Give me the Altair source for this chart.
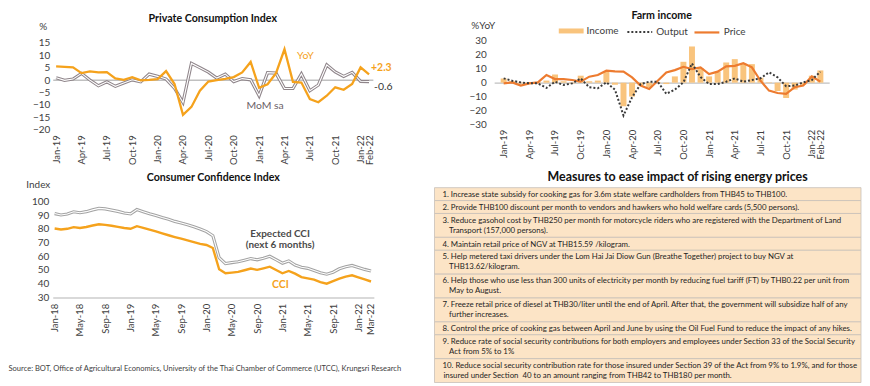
import altair as alt
import pandas as pd

FONT = "Lato"
TXT = "#404040"

# ---------------- data ----------------
months_19 = [d.strftime("%b-%y") for d in pd.date_range("2019-01-01", "2022-02-01", freq="MS")]
months_18 = [d.strftime("%b-%y") for d in pd.date_range("2018-01-01", "2022-03-01", freq="MS")]

pci_ticks = ["Jan-19", "Apr-19", "Jul-19", "Oct-19", "Jan-20", "Apr-20", "Jul-20", "Oct-20",
             "Jan-21", "Apr-21", "Jul-21", "Oct-21", "Jan-22", "Feb-22"]
cci_ticks = ["Jan-18", "May-18", "Sep-18", "Jan-19", "May-19", "Sep-19", "Jan-20", "May-20",
             "Sep-20", "Jan-21", "May-21", "Sep-21", "Jan-22", "Mar-22"]

pci_yoy = [5.5, 5.3, 5.1, 2.8, 3.5, 3.1, 3.2, 0.7, 0.1, 1.2,
           -0.1, 0.1, 0.4, 3.6, -1.6, -14.0, -10.8, -4.3, -0.6, 0.0,
           0.5, 1.2, 3.1, 7.3, -3.1, -1.7, 2.8, 12.4, -0.7, -1.0,
           -7.6, -8.9, -6.3, -2.9, -3.9, -1.6, 5.1, 2.3]
pci_mom = [0.9, -0.1, 0.4, 2.7, 0.0, -2.3, -0.7, -2.5, -1.2, 0.1,
           -0.7, 2.4, 1.5, 0.4, -3.3, -9.0, 6.7, 5.0, 3.2, 0.8,
           2.4, -0.6, 0.6, 0.1, -6.3, 3.0, 2.8, -3.4, -3.4, 2.5,
           -4.3, -2.0, 6.1, 3.3, 1.5, 3.1, -0.5, -0.6]

farm_income = [3.0, 1.0, -0.5, 0.5, 0.5, 1.5, 5.8, 1.0, -0.5, 5.0,
               1.0, 1.5, 8.0, -1.5, -17.0, -10.0, -2.0, -3.5, 0.5, -1.0,
               4.5, 15.0, 26.0, 10.5, 4.5, 7.9, 14.5, 16.9, 13.8, 13.3,
               3.5, 0.3, -6.0, -11.0, -5.0, -1.5, 5.0, 8.8]
farm_output = [3.1, 1.4, 0.2, -0.5, -0.5, -3.8, 0.7, -1.7, -0.5, 3.1,
               -3.3, -4.0, 0.2, -5.0, -23.6, -10.5, -1.0, 0.7, 0.7, -8.0,
               -5.0, 0.2, 13.8, 4.0, -1.0, -1.0, 0.7, 3.1, 0.7, 1.9,
               3.1, 7.4, 3.8, -2.6, -2.1, 0.2, 1.9, 7.9]
farm_price = [-0.5, 0.2, -2.1, -0.5, 0.2, 5.5, 2.6, 2.6, 1.9, 0.7,
              4.3, 5.5, 8.6, 8.1, 7.9, 3.8, -2.1, -4.5, 1.4, 7.4,
              9.0, 11.4, 9.8, 11.0, 6.2, 7.9, 11.7, 12.1, 14.0, 11.0,
              1.4, -5.7, -7.4, -8.1, -3.3, -2.1, 4.5, 0.7]

cci = [80.2, 79.5, 80.0, 81.2, 80.6, 81.3, 82.4, 83.3, 82.9, 82.2,
       81.4, 80.6, 80.0, 81.9, 80.7, 79.4, 78.2, 76.7, 75.3, 74.0,
       72.8, 71.6, 70.3, 69.0, 68.2, 66.0, 50.5, 47.6, 48.1, 48.6,
       49.8, 51.0, 50.1, 51.2, 52.4, 50.0, 47.6, 49.3, 47.3, 44.8,
       43.9, 42.9, 41.2, 40.0, 41.8, 43.7, 45.2, 46.1, 44.6, 43.1, 41.6]
cci_expected = [91.1, 90.1, 90.8, 92.4, 91.7, 92.5, 93.8, 94.9, 94.5, 93.6,
                92.7, 91.5, 90.9, 94.0, 92.5, 91.0, 89.7, 88.2, 86.9, 85.4,
                84.2, 82.9, 81.5, 79.9, 78.0, 75.0, 59.0, 54.6, 55.4, 56.0,
                57.1, 58.3, 57.4, 58.6, 60.0, 57.5, 54.9, 56.6, 53.6, 52.0,
                51.2, 49.6, 48.0, 46.9, 48.4, 50.9, 52.4, 53.3, 51.8, 50.4, 49.3]

measures = [
    ["1. Increase state subsidy for cooking gas for 3.6m state welfare cardholders from THB45 to THB100."],
    ["2. Provide THB100 discount per month to vendors and hawkers who hold welfare cards (5,500 persons)."],
    ["3. Reduce gasohol cost by THB250 per month for motorcycle riders who are registered with the Department of Land",
     "Transport (157,000 persons)."],
    ["4. Maintain retail price of NGV at THB15.59 /kilogram."],
    ["5. Help metered taxi drivers under the Lom Hai Jai Diow Gun (Breathe Together) project to buy NGV at",
     "THB13.62/kilogram."],
    ["6. Help those who use less than 300 units of electricity per month by reducing fuel tariff (FT) by THB0.22 per unit from",
     "May to August."],
    ["7. Freeze retail price of diesel at THB30/liter until the end of April. After that, the government will subsidize half of any",
     "further increases."],
    ["8. Control the price of cooking gas between April and June by using the Oil Fuel Fund to reduce the impact of any hikes."],
    ["9. Reduce rate of social security contributions for both employers and employees under Section 33 of the Social Security",
     "Act from 5% to 1%"],
    ["10. Reduce social security contribution rate for those insured under Section 39 of the Act from 9% to 1.9%, and for those",
     "insured under Section\u00a0 40 to an amount ranging from THB42 to THB180 per month."],
]
source_text = ("Source: BOT, Office of Agricultural Economics, University of the Thai Chamber of Commerce (UTCC), "
               "Krungsri Research")

# ---------------- helpers ----------------
def month_expr(months):
    return "[" + ",".join("'" + m + "'" for m in months) + "][datum.value]"


def x_axis(ticks, months, pad, **kw):
    return alt.Axis(values=[months.index(t) for t in ticks], labelExpr=month_expr(months),
                    labelAngle=270, labelPadding=pad, labelFontSize=9.5, labelFont=FONT,
                    labelColor=TXT, labelOverlap=False, labelFlush=False,
                    ticks=False, grid=False, **kw)


def y_axis(values, title, tx, ty, pad, zero_line=None):
    if zero_line:
        extra = dict(grid=True,
                     gridColor=alt.condition("datum.value == 0", alt.value(zero_line[0]),
                                             alt.value("transparent")),
                     gridWidth=zero_line[1])
    else:
        extra = dict(grid=False)
    return alt.Axis(values=values, title=title, titleAngle=0, titleAlign="center",
                    titleBaseline="middle", titleX=tx, titleY=ty, titleFont=FONT,
                    titleFontSize=10, titleFontWeight="normal", titleColor=TXT,
                    labelFont=FONT, labelFontSize=10, labelColor=TXT, labelPadding=pad,
                    labelOverlap=False, domain=False, ticks=False, **extra)


def ttl(text, size=10.7, offset=0):
    return alt.Title(text, font=FONT, fontSize=size, fontWeight="bold", color="#111111",
                     anchor="middle", offset=offset)


ORANGE = "#F5A21C"
MOM_GREY = "#8F858A"
EXP_GREY = "#A3A3A3"
INC = "#F9C47D"
PRICE = "#ED7B2F"
OUT = "#3A3A3A"

# ---------------- Private Consumption Index ----------------
n19 = len(months_19)
pci_df = pd.DataFrame({"m": list(range(n19)) * 2,
                       "series": ["YoY"] * n19 + ["MoM sa"] * n19,
                       "value": pci_yoy + pci_mom})
pci_base = alt.Chart(pci_df).encode(
    x=alt.X("m:Q", scale=alt.Scale(domain=[-0.4, 37.45], nice=False, zero=False),
            axis=x_axis(pci_ticks, months_19, 5, domain=False, title=None)),
    y=alt.Y("value:Q", scale=alt.Scale(domain=[-20, 21.36], nice=False, zero=False),
            axis=y_axis(list(range(-20, 20, 5)), "%", -10, -0.6, 3, ("#C0C0C0", 1.5))),
)
is_yoy = "datum.series == 'YoY'"
is_mom = "datum.series == 'MoM sa'"
pci_chart = alt.layer(
    pci_base.transform_filter(is_mom).mark_line(color=MOM_GREY, strokeWidth=3.2),
    pci_base.transform_filter(is_mom).mark_line(color="white", strokeWidth=1.1),
    pci_base.transform_filter(is_yoy).mark_line(color=ORANGE, strokeWidth=2.3),
    pci_base.transform_filter(is_yoy + " && datum.m == 27").mark_text(
        text="YoY", dx=21, dy=7, font=FONT, fontSize=10.5, color=ORANGE),
    pci_base.transform_filter(is_mom + " && datum.m == 24").mark_text(
        text="MoM sa", dx=6, dy=10, font=FONT, fontSize=10.5, color="#6B6267"),
    pci_base.transform_filter(is_yoy + " && datum.m == 37")
    .transform_calculate(lbl="replace(format(datum.value, '+.1f'), '\u2212', '-')")
    .mark_text(align="left", dx=2, dy=-6, font=FONT, fontSize=10.5, fontWeight="bold", color=ORANGE)
    .encode(text="lbl:N"),
    pci_base.transform_filter(is_mom + " && datum.m == 37")
    .transform_calculate(lbl="replace(format(datum.value, '.1f'), '\u2212', '-')")
    .mark_text(align="left", dx=5, dy=5, font=FONT, fontSize=10.5, color="#333333")
    .encode(text="lbl:N"),
).properties(width=322, height=103.4, title=ttl("Private Consumption Index", offset=-3))

# ---------------- Farm income ----------------
farm_df = pd.DataFrame({"m": list(range(n19)) * 3,
                        "series": ["Income"] * n19 + ["Output"] * n19 + ["Price"] * n19,
                        "value": farm_income + farm_output + farm_price})
farm_base = alt.Chart(farm_df).encode(
    x=alt.X("m:Q", scale=alt.Scale(domain=[-0.53, 37.45], nice=False, zero=False),
            axis=x_axis(pci_ticks, months_19, 5, domain=False, title=None)),
    y=alt.Y("value:Q", scale=alt.Scale(domain=[-30, 40], nice=False, zero=False),
            axis=y_axis(list(range(-30, 40, 10)), "%YoY", -11.5, -1.6, 8, ("#C0C0C0", 1.2))),
)
leg = dict(orient="none", title=None, labelFont=FONT, labelFontSize=10, labelColor=TXT,
           labelOffset=3, direction="horizontal")
LEG_Y = -8.5
farm_chart = alt.layer(
    farm_base.transform_filter("datum.series == 'Income'").mark_bar(size=6).encode(
        fill=alt.Fill("series:N", scale=alt.Scale(domain=["Income"], range=[INC]),
                      legend=alt.Legend(legendX=65, legendY=LEG_Y, symbolType="M-1,-0.2H1V0.2H-1Z",
                                        symbolSize=625, symbolStrokeWidth=0, **leg))),
    farm_base.transform_filter("datum.series == 'Price'").mark_line(strokeWidth=2.2).encode(
        stroke=alt.Stroke("series:N", scale=alt.Scale(domain=["Price"], range=[PRICE]),
                          legend=alt.Legend(legendX=200, legendY=LEG_Y, symbolType="stroke",
                                            symbolSize=625, symbolStrokeWidth=2.2, **leg))),
    farm_base.transform_filter("datum.series == 'Output'").mark_line(color=OUT, strokeWidth=2).encode(
        strokeDash=alt.StrokeDash("series:N", scale=alt.Scale(domain=["Output"], range=[[2, 2]]),
                                  legend=alt.Legend(legendX=133, legendY=LEG_Y, symbolType="stroke",
                                                    symbolSize=625, symbolStrokeWidth=2,
                                                    symbolStrokeColor=OUT, symbolDash=[2, 2], **leg))),
).properties(width=337, height=98, title=ttl("Farm income", offset=-3))

# ---------------- Consumer Confidence Index ----------------
n18 = len(months_18)
cci_df = pd.DataFrame({"m": list(range(n18)) * 2,
                       "series": ["CCI"] * n18 + ["Expected"] * n18,
                       "value": cci + cci_expected})
cci_base = alt.Chart(cci_df).encode(
    x=alt.X("m:Q", scale=alt.Scale(domain=[-0.3, 50.45], nice=False, zero=False),
            axis=x_axis(cci_ticks, months_18, 6, domain=True, domainColor="#D9D9D9", domainWidth=2,
                        title=source_text, titleX=-45, titleY=71.3, titleAlign="left",
                        titleBaseline="middle", titleAngle=0, titleFont=FONT, titleFontSize=7.6,
                        titleFontWeight="normal", titleColor=TXT)),
    y=alt.Y("value:Q", scale=alt.Scale(domain=[30, 110], nice=False, zero=False),
            axis=y_axis(list(range(30, 110, 10)), "Index", -15, -3.3, 4)),
)
is_cci = "datum.series == 'CCI'"
is_exp = "datum.series == 'Expected'"
cci_chart = alt.layer(
    cci_base.transform_filter(is_exp).mark_line(color=EXP_GREY, strokeWidth=3.2),
    cci_base.transform_filter(is_exp).mark_line(color="white", strokeWidth=1.1),
    cci_base.transform_filter(is_cci).mark_line(color=ORANGE, strokeWidth=2.4),
    cci_base.transform_filter(is_exp + " && datum.m == 35").mark_text(
        text=["Expected CCI", "(next 6 months)"], dx=4, dy=-26, lineHeight=11.5, font=FONT,
        fontSize=10, fontWeight="bold", color="#4A4A4A", baseline="middle"),
    cci_base.transform_filter(is_cci + " && datum.m == 36").mark_text(
        text="CCI", dx=-2, dy=12, font=FONT, fontSize=10.5, fontWeight="bold", color=ORANGE),
).properties(width=323, height=110.4, title=ttl("Consumer Confidence Index", offset=-4))

# ---------------- Measures table ----------------
LINE_H = 11
ROW_PAD = 2
row_recs, line_recs = [], []
top = 0
for lines in measures:
    h = ROW_PAD + LINE_H * len(lines)
    row_recs.append({"top": top, "bottom": top + h})
    wide_num = len(lines[0].split(".")[0]) > 1
    for j, t in enumerate(lines):
        line_recs.append({"pos": top + 7.2 + 10 * j, "txt": t,
                          "kind": "first" if j == 0 else ("cont_wide" if wide_num else "cont")})
    top += h
TH = top
rows_df = pd.DataFrame(row_recs)
lines_df = pd.DataFrame(line_recs)
ty = alt.Scale(domain=[0, TH], reverse=True, nice=False, zero=False)


def table_text(kind, xpix):
    return alt.Chart(lines_df).transform_filter(f"datum.kind == '{kind}'").mark_text(
        align="left", baseline="middle", font=FONT, fontSize=7.9, color="#1E1E1E").encode(
        x=alt.value(xpix), y=alt.Y("pos:Q", scale=ty, axis=None), text="txt:N")


table_chart = alt.layer(
    alt.Chart(rows_df).mark_rect(fill="#FCE4C6", stroke="#C8C0B8", strokeWidth=0.8).encode(
        x=alt.value(-60), x2=alt.value(369),
        y=alt.Y("top:Q", scale=ty, axis=None), y2="bottom:Q"),
    table_text("first", -52),
    table_text("cont", -45.3),
    table_text("cont_wide", -51),
).properties(width=369, height=TH,
             title=ttl("Measures to ease impact of rising energy prices", size=12.5, offset=4))

chart = alt.concat(
    pci_chart, farm_chart, cci_chart, table_chart,
    columns=2, spacing={"row": 57.6, "column": 121}, bounds="flush",
).resolve_scale(
    fill="independent", stroke="independent", strokeDash="independent",
).properties(padding=0, background="white").configure_view(stroke=None)

chart.save("out.html", embed_options={"renderer": "svg", "actions": False})
